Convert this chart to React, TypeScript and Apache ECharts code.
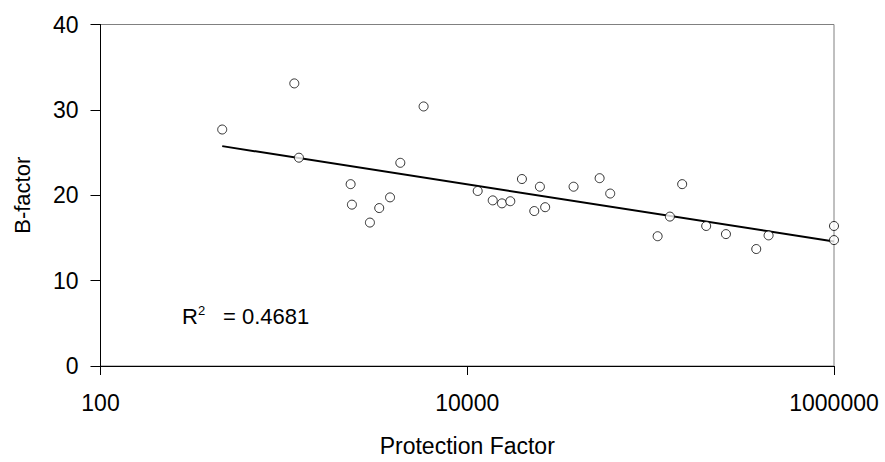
import React, { useEffect, useRef } from "react";
import * as echarts from "echarts";

const protectionFactor = [
  461, 1140, 1208, 2312, 2350, 2946, 3311, 3793, 4315, 5781,
  11400, 13770, 15460, 17170, 19870, 23200, 24900, 26600, 38000, 52700,
  60200, 109200, 127400, 148600, 200900, 257500, 376700, 439800, 1000000, 1000000,
];
const bFactor = [
  27.7, 33.1, 24.4, 21.3, 18.9, 16.8, 18.5, 19.75, 23.8, 30.4,
  20.5, 19.4, 19.05, 19.3, 21.9, 18.15, 21.0, 18.6, 21.0, 22.0,
  20.2, 15.2, 17.5, 21.3, 16.4, 15.45, 13.7, 15.3, 16.4, 14.75,
];
// x tick labels (decades shown on the log axis)
const xTickLabels = ["100", "10000", "1000000"];
const rSquaredText = "= 0.4681";
const xAxisTitle = "Protection Factor";
const yAxisTitle = "B-factor";

const FONT = "'Liberation Sans', Arial, sans-serif";

function fitLogLine(xs: number[], ys: number[]) {
  const lx = xs.map((v) => Math.log10(v));
  const n = lx.length;
  const mx = lx.reduce((a, b) => a + b, 0) / n;
  const my = ys.reduce((a, b) => a + b, 0) / n;
  let sxy = 0;
  let sxx = 0;
  for (let i = 0; i < n; i++) {
    sxy += (lx[i] - mx) * (ys[i] - my);
    sxx += (lx[i] - mx) * (lx[i] - mx);
  }
  const slope = sxy / sxx;
  const intercept = my - slope * mx;
  return (l: number) => intercept + slope * l;
}

export default function App() {
  const ref = useRef<HTMLDivElement>(null);
  useEffect(() => {
    if (!ref.current) return;
    const chart = echarts.init(ref.current, undefined, { renderer: "svg" });
    const f = fitLogLine(protectionFactor, bFactor);
    const logs = protectionFactor.map((x) => Math.log10(x));
    const lMin = Math.min(...logs);
    const lMax = Math.max(...logs);
    const trend = [
      [lMin, f(lMin)],
      [lMax, f(lMax)],
    ];
    const points = logs.map((l, i) => [l, bFactor[i]]);
    const tickLogs = xTickLabels.map((t) => Math.log10(Number(t)));
    chart.setOption({
      animation: false,
      backgroundColor: "#ffffff",
      grid: {
        left: 100.5,
        right: 51,
        top: 24.5,
        bottom: 94,
        show: true,
        borderColor: "#808080",
        borderWidth: 1,
        backgroundColor: "transparent",
      },
      xAxis: {
        type: "value",
        min: tickLogs[0],
        max: tickLogs[tickLogs.length - 1],
        interval: tickLogs[1] - tickLogs[0],
        name: xAxisTitle,
        nameLocation: "middle",
        nameGap: 68,
        nameTextStyle: { fontFamily: FONT, fontSize: 23, color: "#000" },
        axisLine: { show: true, lineStyle: { color: "#000", width: 1 } },
        axisTick: { show: true, inside: false, length: 9, lineStyle: { color: "#000" } },
        splitLine: { show: false },
        axisLabel: {
          fontFamily: FONT,
          fontSize: 23,
          color: "#000",
          margin: 25,
          formatter: (v: number) => {
            const idx = tickLogs.findIndex((t) => Math.abs(t - v) < 1e-6);
            return idx >= 0 ? xTickLabels[idx] : "";
          },
        },
      },
      yAxis: {
        type: "value",
        min: 0,
        max: 40,
        interval: 10,
        name: yAxisTitle,
        nameLocation: "middle",
        nameGap: 67,
        nameTextStyle: { fontFamily: FONT, fontSize: 22, color: "#000" },
        axisLine: { show: true, lineStyle: { color: "#000", width: 1 } },
        axisTick: { show: true, inside: false, length: 10, lineStyle: { color: "#000" } },
        splitLine: { show: false },
        axisLabel: { fontFamily: FONT, fontSize: 23, color: "#000", margin: 22 },
      },
      series: [
        {
          type: "line",
          data: trend,
          symbol: "none",
          lineStyle: { color: "#000", width: 2 },
          silent: true,
          z: 2,
        },
        {
          type: "scatter",
          data: points,
          symbol: "circle",
          symbolSize: 9,
          itemStyle: { color: "#fff", borderColor: "#000", borderWidth: 1 },
          z: 3,
        },
      ],
      graphic: [
        {
          type: "text",
          x: 182,
          y: 316,
          style: {
            text: "R",
            font: `22px ${FONT}`,
            fill: "#000",
            verticalAlign: "middle",
          },
        },
        {
          type: "text",
          x: 198,
          y: 310,
          style: {
            text: "2",
            font: `13px ${FONT}`,
            fill: "#000",
            verticalAlign: "middle",
          },
        },
        {
          type: "text",
          x: 223,
          y: 316,
          style: {
            text: rSquaredText,
            font: `22px ${FONT}`,
            fill: "#000",
            verticalAlign: "middle",
          },
        },
      ],
    });
    return () => chart.dispose();
  }, []);
  return <div ref={ref} style={{ width: 885, height: 462, position: "fixed", left: 0, top: 0 }} />;
}
